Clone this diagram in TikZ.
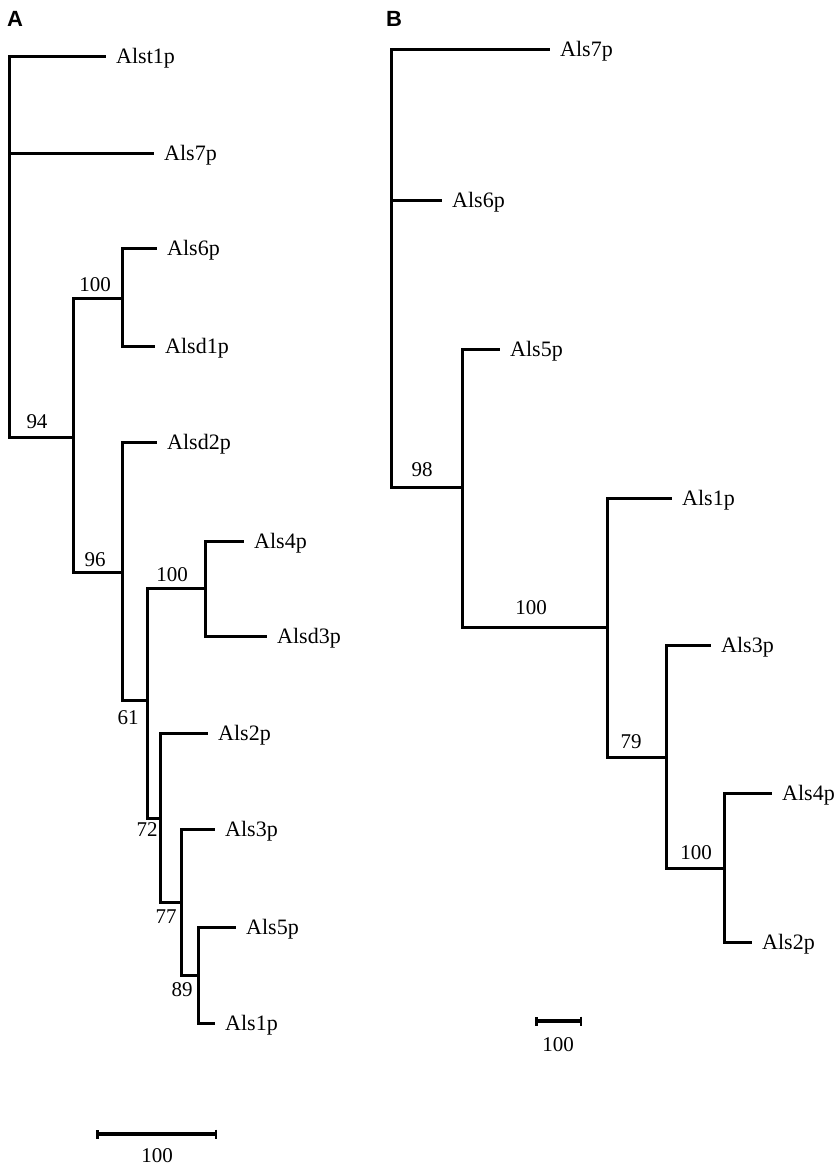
\documentclass[tikz,border=0pt]{standalone}
\usepackage{fontspec}
\setmainfont{Liberation Serif}
\newfontfamily\panelfont{Liberation Sans}
\usetikzlibrary{arrows.meta}
\begin{document}
\begin{tikzpicture}[x=1pt,y=-1pt,
  branch/.style={line width=3pt, line cap=rect, line join=miter},
  leaf/.style={anchor=base west, inner sep=0pt, xshift=12pt, yshift=-7pt,
               font=\fontsize{22}{24}\selectfont},
  boot/.style={inner sep=0pt, font=\fontsize{21}{23}\selectfont},
  panel/.style={anchor=base west, inner sep=0pt,
                font=\panelfont\bfseries\fontsize{22}{24}\selectfont},
  scalebar/.style={line width=3.5pt, {Bar[width=9pt,line width=2.5pt]}-{Bar[width=9pt,line width=2.5pt]}}]
\path[use as bounding box] (0,0) rectangle (835,1167);

% ---------------- panel A ----------------
\node[panel] (pA) at (7,27) {A};

\coordinate (rA)     at (9,56);
\coordinate (n94)    at (73,437);
\coordinate (n100a)  at (122,298);
\coordinate (n96)    at (122,572);
\coordinate (n61)    at (147,700);
\coordinate (n100b)  at (205,588);
\coordinate (n72)    at (160,818);
\coordinate (n77)    at (181,902);
\coordinate (n89)    at (198,975);

\coordinate (tAlst1p) at (104,56);
\coordinate (tAls7pA) at (152,153);
\coordinate (tAls6pA) at (155,248);
\coordinate (tAlsd1p) at (153,346);
\coordinate (tAlsd2p) at (155,442);
\coordinate (tAls4pA) at (242,541);
\coordinate (tAlsd3p) at (265,636);
\coordinate (tAls2pA) at (206,733);
\coordinate (tAls3pA) at (213,829);
\coordinate (tAls5pA) at (234,927);
\coordinate (tAls1pA) at (213,1023);

\draw[branch] (rA) |- (tAlst1p);
\draw[branch] (rA) |- (tAls7pA);
\draw[branch] (rA) |- (n94);
\draw[branch] (n94) |- (n100a);
\draw[branch] (n94) |- (n96);
\draw[branch] (n100a) |- (tAls6pA);
\draw[branch] (n100a) |- (tAlsd1p);
\draw[branch] (n96) |- (tAlsd2p);
\draw[branch] (n96) |- (n61);
\draw[branch] (n61) |- (n100b);
\draw[branch] (n61) |- (n72);
\draw[branch] (n100b) |- (tAls4pA);
\draw[branch] (n100b) |- (tAlsd3p);
\draw[branch] (n72) |- (tAls2pA);
\draw[branch] (n72) |- (n77);
\draw[branch] (n77) |- (tAls3pA);
\draw[branch] (n77) |- (n89);
\draw[branch] (n89) |- (tAls5pA);
\draw[branch] (n89) |- (tAls1pA);

\node[leaf] (lAlst1p) at (tAlst1p) {Alst1p};
\node[leaf] (lAls7pA) at (tAls7pA) {Als7p};
\node[leaf] (lAls6pA) at (tAls6pA) {Als6p};
\node[leaf] (lAlsd1p) at (tAlsd1p) {Alsd1p};
\node[leaf] (lAlsd2p) at (tAlsd2p) {Alsd2p};
\node[leaf] (lAls4pA) at (tAls4pA) {Als4p};
\node[leaf] (lAlsd3p) at (tAlsd3p) {Alsd3p};
\node[leaf] (lAls2pA) at (tAls2pA) {Als2p};
\node[leaf] (lAls3pA) at (tAls3pA) {Als3p};
\node[leaf] (lAls5pA) at (tAls5pA) {Als5p};
\node[leaf] (lAls1pA) at (tAls1pA) {Als1p};

\node[boot] (b94)   at (37,422)  {94};
\node[boot] (b100a) at (95,285)  {100};
\node[boot] (b96)   at (95,560)  {96};
\node[boot] (b100b) at (172,575) {100};
\node[boot] (b61)   at (128,718) {61};
\node[boot] (b72)   at (147,830) {72};
\node[boot] (b77)   at (166,917) {77};
\node[boot] (b89)   at (182,990) {89};

\coordinate (sA1) at (96,1134);
\coordinate (sA2) at (217,1134);
\draw[scalebar] (sA1) -- (sA2);
\node[boot] (sAlab) at (157,1156) {100};

% ---------------- panel B ----------------
\node[panel] (pB) at (386,27) {B};

\coordinate (rB)     at (391,49);
\coordinate (n98)    at (462,487);
\coordinate (n100c)  at (607,627);
\coordinate (n79)    at (666,757);
\coordinate (n100d)  at (724,868);

\coordinate (tAls7pB) at (548,49);
\coordinate (tAls6pB) at (440,200);
\coordinate (tAls5pB) at (498,349);
\coordinate (tAls1pB) at (670,498);
\coordinate (tAls3pB) at (709,645);
\coordinate (tAls4pB) at (770,793);
\coordinate (tAls2pB) at (750,942);

\draw[branch] (rB) |- (tAls7pB);
\draw[branch] (rB) |- (tAls6pB);
\draw[branch] (rB) |- (n98);
\draw[branch] (n98) |- (tAls5pB);
\draw[branch] (n98) |- (n100c);
\draw[branch] (n100c) |- (tAls1pB);
\draw[branch] (n100c) |- (n79);
\draw[branch] (n79) |- (tAls3pB);
\draw[branch] (n79) |- (n100d);
\draw[branch] (n100d) |- (tAls4pB);
\draw[branch] (n100d) |- (tAls2pB);

\node[leaf] (lAls7pB) at (tAls7pB) {Als7p};
\node[leaf] (lAls6pB) at (tAls6pB) {Als6p};
\node[leaf] (lAls5pB) at (tAls5pB) {Als5p};
\node[leaf] (lAls1pB) at (tAls1pB) {Als1p};
\node[leaf] (lAls3pB) at (tAls3pB) {Als3p};
\node[leaf] (lAls4pB) at (tAls4pB) {Als4p};
\node[leaf] (lAls2pB) at (tAls2pB) {Als2p};

\node[boot] (b98)   at (422,470) {98};
\node[boot] (b100c) at (531,608) {100};
\node[boot] (b79)   at (631,742) {79};
\node[boot] (b100d) at (696,853) {100};

\coordinate (sB1) at (535,1021);
\coordinate (sB2) at (582,1021);
\draw[scalebar] (sB1) -- (sB2);
\node[boot] (sBlab) at (558,1045) {100};
\end{tikzpicture}
\end{document}
